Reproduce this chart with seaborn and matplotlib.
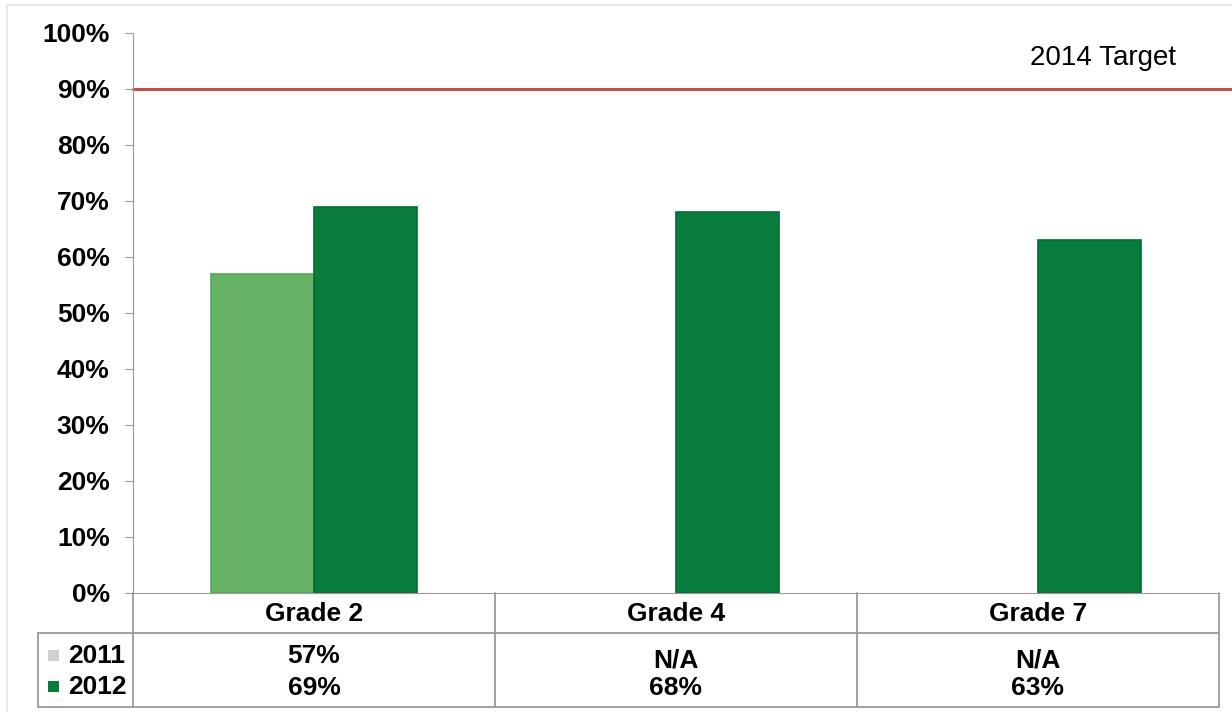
import numpy as np
import pandas as pd
import matplotlib
matplotlib.use("Agg")
import matplotlib.pyplot as plt
import matplotlib.transforms as mtransforms
from matplotlib.lines import Line2D
from matplotlib.patches import Rectangle
import seaborn as sns

# データ
grades = ["Grade 2", "Grade 4", "Grade 7"]
years = ["2011", "2012"]
vals_2011 = [57, None, None]
vals_2012 = [69, 68, 63]
target = 90
target_label = "2014 Target"

colors = {"2011": "#66B366", "2012": "#077C3B"}
edges = {"2011": "#56A556", "2012": "#066B33"}
legend_marks = {"2011": "#D0D0D0", "2012": "#077C3B"}

rows = []
for g, a, b in zip(grades, vals_2011, vals_2012):
    if a is not None:
        rows.append({"Grade": g, "Year": "2011", "Value": a})
    if b is not None:
        rows.append({"Grade": g, "Year": "2012", "Value": b})
df = pd.DataFrame(rows)

sns.set_style("white")
plt.rcParams["font.family"] = ["Liberation Sans", "DejaVu Sans"]
plt.rcParams["text.color"] = "black"
plt.rcParams["ytick.labelcolor"] = "black"
FS = 19

W, H = 1232, 712
fig = plt.figure(figsize=(W / 100, H / 100), dpi=100)
ax = fig.add_axes([133 / W, 1 - 593 / H, (1219 - 133) / W, (593 - 33) / H])

sns.barplot(data=df, x="Grade", y="Value", hue="Year", order=grades,
            hue_order=years, palette=colors, width=0.57, dodge=True,
            saturation=1, legend=False, ax=ax)
for bar in ax.patches:
    c = bar.get_facecolor()
    for y in years:
        if np.allclose(c[:3], matplotlib.colors.to_rgb(colors[y])):
            bar.set_edgecolor(edges[y])
    bar.set_linewidth(1.2)

ax.set_xlim(-0.5, 2.5)
ax.set_ylim(0, 100)
ax.set_yticks(range(0, 101, 10))
ax.set_yticklabels([f"{t}%" for t in range(0, 101, 10)],
                   fontsize=FS, fontweight="bold", color="black")
ax.set_xticks([])
ax.set_xlabel("")
ax.set_ylabel("")
for s in ["top", "right"]:
    ax.spines[s].set_visible(False)
ax.spines["left"].set_color("#999999")
ax.spines["bottom"].set_color("#999999")
ax.tick_params(axis="y", left=True, length=5.8, color="#999999", pad=11)

# 目標ライン
ax.axhline(target, xmin=0, xmax=(W - 133) / (1219 - 133), color="#C0504D",
           lw=2.2, clip_on=False)
ax.text(0.96, 0.955, target_label, transform=ax.transAxes, ha="right",
        va="center", fontsize=20, color="black")

# 表
def fx(px):
    return px / W

def fy(py):
    return 1 - py / H

grey = "#999999"
line_kw = dict(color=grey, lw=1.3, transform=fig.transFigure)
bounds_px = [133, 495, 857, 1219]
for bx in bounds_px:
    fig.add_artist(Line2D([fx(bx), fx(bx)], [fy(593), fy(707)], **line_kw))
fig.add_artist(Line2D([fx(38), fx(1219)], [fy(633), fy(633)], **line_kw))
fig.add_artist(Line2D([fx(38), fx(1219)], [fy(707), fy(707)], **line_kw))
fig.add_artist(Line2D([fx(38), fx(38)], [fy(633), fy(707)], **line_kw))

trans = mtransforms.blended_transform_factory(ax.transData, fig.transFigure)
for i, g in enumerate(grades):
    ax.text(i, fy(614), g, transform=trans, ha="center", va="center",
            fontsize=FS, fontweight="bold")
    a, b = vals_2011[i], vals_2012[i]
    if a is None:
        ax.text(i, fy(661), "N/A", transform=trans, ha="center", va="center",
                fontsize=FS, fontweight="bold")
    else:
        ax.text(i, fy(656), f"{a}%", transform=trans, ha="center",
                va="center", fontsize=FS, fontweight="bold")
    ax.text(i, fy(688), f"{b}%", transform=trans, ha="center", va="center",
            fontsize=FS, fontweight="bold")

for y, py in zip(years, [656, 687]):
    fig.add_artist(Rectangle((fx(48), fy(py + 5)), fx(11), 11 / H,
                             transform=fig.transFigure,
                             facecolor=legend_marks[y], edgecolor="none"))
    fig.text(fx(68), fy(py), y, ha="left", va="center", fontsize=FS,
             fontweight="bold")

# 外枠
fig.add_artist(Line2D([fx(7), fx(7)], [fy(5), fy(712)], color="#E3E3E3",
                      lw=1.2, transform=fig.transFigure))
fig.add_artist(Line2D([fx(7), fx(W)], [fy(5), fy(5)], color="#E3E3E3",
                      lw=1.2, transform=fig.transFigure))

fig.savefig("out.png", dpi=100)
